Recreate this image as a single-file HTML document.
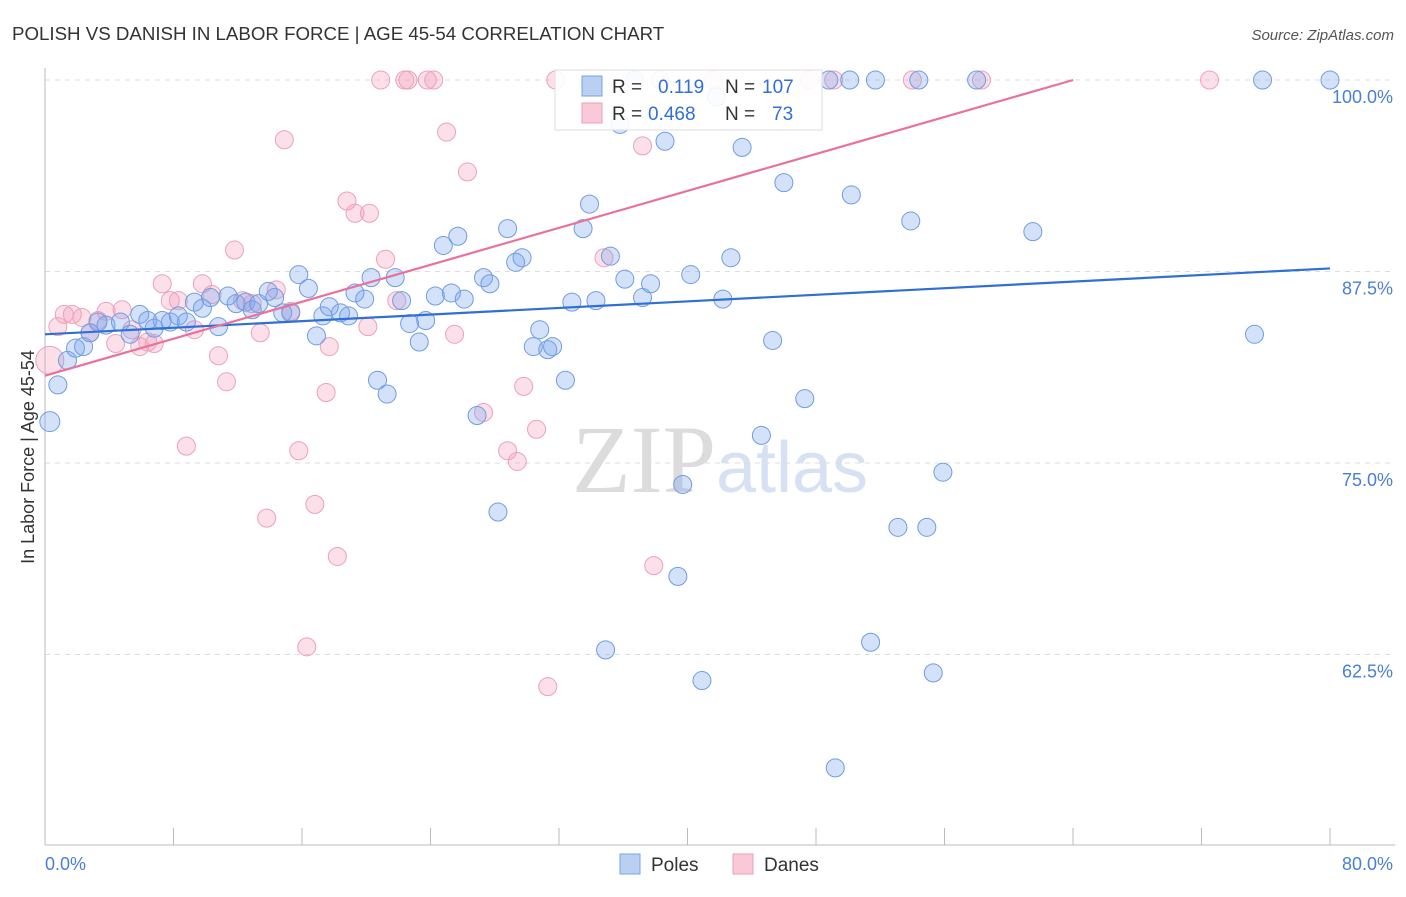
<!DOCTYPE html>
<html><head><meta charset="utf-8"><style>
body{margin:0;background:#fff;font-family:"Liberation Sans",sans-serif}
svg text{font-family:"Liberation Sans",sans-serif}
</style></head><body>
<svg id="chart" width="1406" height="892" xmlns="http://www.w3.org/2000/svg">
<text x="12" y="40" font-size="18.7" fill="#333">POLISH VS DANISH IN LABOR FORCE | AGE 45-54 CORRELATION CHART</text>
<text x="1394" y="40" font-size="15" fill="#555" font-style="italic" text-anchor="end">Source: ZipAtlas.com</text>
<text x="720" y="492" font-size="96" fill="#e6e6e6" text-anchor="middle" font-family="Liberation Serif"><tspan fill="#dcdcdc" font-family="Liberation Serif">ZIP</tspan><tspan fill="#d6e2f4" font-family="Liberation Sans" font-size="72">atlas</tspan></text>
<g id="grid"></g><g id="axes"></g><g id="pink"></g><g id="blue"></g><g id="lines"></g>
<text transform="translate(34,457) rotate(-90)" font-size="18" fill="#333" text-anchor="middle">In Labor Force | Age 45-54</text>
<text x="45" y="870" font-size="18" fill="#4a7fd6">0.0%</text>
<text x="1393" y="870" font-size="18" fill="#4a7fd6" text-anchor="end">80.0%</text>
<g>
<rect x="555" y="70" width="267" height="60" fill="#fff" fill-opacity="0.9" stroke="#ddd"/>
<rect x="582" y="76" width="20" height="20" fill="#b9d0f3" stroke="#7aa3e6"/>
<rect x="582" y="103" width="20" height="20" fill="#f9c9d8" stroke="#ee9fb8"/>
<text y="93" font-size="19" fill="#333"><tspan x="612">R =</tspan><tspan x="658" fill="#2f6fd6">0.119</tspan><tspan x="725">N =</tspan><tspan x="762" fill="#2f6fd6">107</tspan></text>
<text y="120" font-size="19" fill="#333"><tspan x="612">R =</tspan><tspan x="648" fill="#2f6fd6">0.468</tspan><tspan x="725">N =</tspan><tspan x="772" fill="#2f6fd6">73</tspan></text>
</g>
<g>
<rect x="620" y="854" width="20" height="20" fill="#b9d0f3" stroke="#7aa3e6"/>
<text x="651" y="871" font-size="19" fill="#333">Poles</text>
<rect x="733" y="854" width="20" height="20" fill="#f9c9d8" stroke="#ee9fb8"/>
<text x="764" y="871" font-size="19" fill="#333">Danes</text>
</g>
</svg>
<script>
const yTicks=[100,87.5,75,62.5];
const yTickLabels=["100.0%","87.5%","75.0%","62.5%"];
const xTicks=[0,8,16,24,32,40,48,56,64,72,80];
const polesX=[0.3,0.8,1.4,1.9,2.4,2.8,3.3,3.8,4.7,5.3,5.9,6.4,6.8,7.3,7.8,8.3,8.8,9.3,9.8,10.3,10.8,11.4,11.9,12.5,12.9,13.3,13.9,14.3,14.8,15.3,15.8,16.4,16.9,17.3,17.7,18.4,18.9,19.3,19.9,20.3,20.7,21.3,21.8,22.2,22.7,23.3,23.7,24.3,24.8,25.3,25.7,26.1,26.9,27.3,27.7,28.2,28.8,29.3,29.7,30.4,30.8,31.3,31.6,32.4,32.8,33.5,33.9,34.3,34.9,35.2,35.8,36.1,36.7,37.2,37.7,38.6,39.4,39.7,40.2,40.9,41.8,42.2,42.7,43.4,44.6,45.3,46.0,47.3,48.8,49.2,50.1,50.2,51.4,51.7,53.1,53.9,54.4,54.9,55.3,55.9,58.0,61.5,75.3,75.8,80.0];
const polesY=[77.7,80.1,81.7,82.5,82.6,83.5,84.2,84.0,84.2,83.4,84.7,84.3,83.8,84.3,84.2,84.6,84.2,85.5,85.1,85.8,83.9,85.9,85.4,85.5,85.0,85.4,86.2,85.8,84.8,84.8,87.3,86.4,83.3,84.6,85.2,84.8,84.6,86.1,85.7,87.1,80.4,79.5,87.1,85.6,84.1,82.9,84.3,85.9,89.2,86.1,89.8,85.7,78.1,87.1,86.7,71.8,90.3,88.1,88.4,82.6,83.7,82.4,82.6,80.4,85.5,90.3,91.9,85.6,62.8,88.5,97.1,87.0,100,85.8,86.7,96.0,67.6,73.6,87.3,60.8,98.9,85.7,88.4,95.6,76.8,83.0,93.3,79.2,100,55.1,100,92.5,63.3,100,70.8,90.8,100,70.8,61.3,74.4,100,90.1,83.4,100,100];
const danesX=[0.3,0.8,1.2,1.7,2.3,2.8,3.3,3.8,4.4,4.8,5.4,5.9,6.4,6.8,7.3,7.8,8.3,8.8,9.3,9.8,10.4,10.8,11.3,11.8,12.3,12.9,13.4,13.8,14.4,14.9,15.3,15.8,16.3,16.8,17.5,17.7,18.2,18.8,19.3,20.1,20.2,20.9,21.2,21.9,22.4,22.6,23.8,24.2,25.0,25.5,26.3,27.3,28.8,29.4,29.8,30.6,31.3,31.8,34.8,37.2,37.9,38.3,41.6,47.6,49.1,54.0,58.3,72.5];
const danesY=[81.7,83.9,84.7,84.7,84.5,83.5,84.3,84.9,82.8,85.0,83.7,82.6,82.9,82.8,86.7,85.6,85.6,76.1,83.7,86.7,86.0,82.0,80.3,88.9,85.6,85.4,83.5,71.4,86.3,96.1,84.9,75.8,63.0,72.3,79.6,82.6,68.9,92.1,91.3,83.9,91.3,100,88.3,85.6,100,100,100,100,96.6,83.4,94.0,78.3,75.8,75.1,80.0,77.2,60.4,100,88.4,95.7,68.3,100,100,100,100,100,100,100];
const polesTrend=[83.4,87.7];
const danesTrend=[80.7,104.82];
const NS="http://www.w3.org/2000/svg";
const X0=45,X1=1330,YTOP=80,PX=191.5/12.5;
const sx=v=>X0+(X1-X0)*v/80;
const sy=v=>YTOP+(100-v)*PX;
function mk(tag,attrs,parent){const e=document.createElementNS(NS,tag);for(const k in attrs)e.setAttribute(k,attrs[k]);parent.appendChild(e);return e;}
const grid=document.getElementById('grid'),axes=document.getElementById('axes');
yTicks.forEach((t,i)=>{
 const l=mk('line',{x1:45,x2:1395,y1:sy(t),y2:sy(t),stroke:'#ddd','stroke-dasharray':'5,5'},grid);
 
 
 const tx=mk('text',{x:1393,y:sy(t)+23,'font-size':18,fill:'#4a7fd6','text-anchor':'end'},grid);
 tx.textContent=yTickLabels[i];
 
 
});
const ax=mk('line',{x1:45,x2:1395,y1:845,y2:845,stroke:'#bbb'},axes);


const ay=mk('line',{x1:45,x2:45,y1:68,y2:845,stroke:'#bbb'},axes);


xTicks.forEach(t=>{
 const l=mk('line',{x1:sx(t),x2:sx(t),y1:828,y2:845,stroke:'#bbb'},axes);
 
 
});
function dots(xs,ys,g,fill,stroke,name){
 xs.forEach((x,i)=>{
  const c=mk('circle',{cx:sx(x),cy:sy(ys[i]),r:i===0&&name==='danes-point'?14:(i===0?10:9),fill:fill,stroke:stroke,'stroke-width':1},g);
  
  
 });
}
dots(danesX,danesY,document.getElementById('pink'),'rgba(244,160,188,0.32)','#eea0ba','danes-point');
dots(polesX,polesY,document.getElementById('blue'),'rgba(120,165,235,0.32)','#6f9ce3','poles-point');
const lg=document.getElementById('lines');
const bl=mk('line',{x1:sx(0),y1:sy(polesTrend[0]),x2:sx(80),y2:sy(polesTrend[1]),stroke:'#2f6fd6','stroke-width':2.2},lg);


const slope=(danesTrend[1]-danesTrend[0])/80;
const xEnd=Math.min(80,(100-danesTrend[0])/slope);
const pl=mk('line',{x1:sx(0),y1:sy(danesTrend[0]),x2:sx(xEnd),y2:sy(danesTrend[0]+slope*xEnd),stroke:'#e8729a','stroke-width':2.2},lg);


</script>
</body></html>
